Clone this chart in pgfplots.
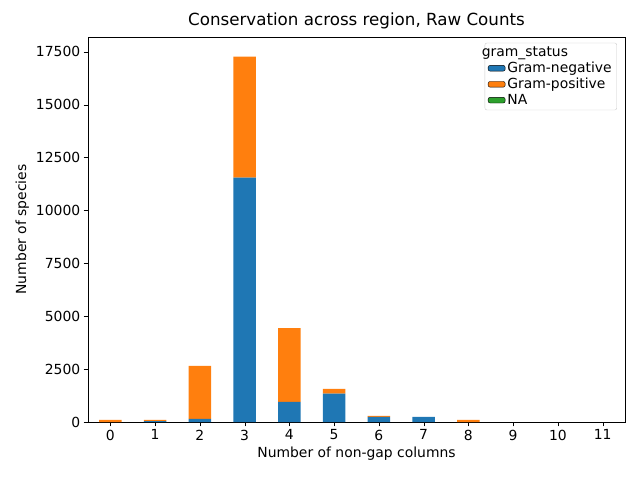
\documentclass[border=0pt]{standalone}
\usepackage{pgfplots}
\pgfplotsset{compat=1.18}
\usepackage{fontspec}
\setmainfont{DejaVu Sans}
\definecolor{c1}{HTML}{1F77B4}
\definecolor{c2}{HTML}{FF7F0E}
\definecolor{c3}{HTML}{2CA02C}
\newcommand{\fs}{\fontsize{13.9}{16}\selectfont}
\newcommand{\ft}{\fontsize{16.7}{19}\selectfont}
\begin{document}
\begin{tikzpicture}
\useasboundingbox (-88pt,-58pt) rectangle (552pt,422pt);
\begin{axis}[at={(0,0)},anchor=south west,
 width=537pt,height=385pt,scale only axis,
 ybar stacked, bar width=0.5,
 xmin=-0.5,xmax=11.5,ymin=0,ymax=18200,
 xtick={0,...,11},
 ytick={0,2500,5000,7500,10000,12500,15000,17500},
 scaled y ticks=false,
 yticklabel style={/pgf/number format/.cd,fixed,1000 sep={}},
 /pgf/number format/assume math mode=true,
 tick align=outside, tick style={black},
 xtick pos=bottom, ytick pos=left,
 ticklabel style={font=\fs},
 title={Conservation across region, Raw Counts},
 title style={font=\ft,yshift=-2pt},
 xlabel={Number of non-gap columns}, ylabel={Number of species},
 label style={font=\fs},
 legend style={at={(0.985,0.985)},anchor=north east,font=\fs,draw=black!20,rounded corners=2pt},
 legend cell align=left,
 legend image code/.code={\fill[#1,draw=none] (0pt,-3pt) rectangle (28pt,5pt);},
 area legend,
]
\addlegendimage{empty legend}\addlegendentry{\hspace{-0.9cm}gram\_status}
\addplot[fill=c1,draw=none] coordinates {(0,0)(1,47)(2,142)(3,11550)(4,950)(5,1343)(6,237)(7,237)(8,0)(9,0)(10,0)(11,0)};
\addlegendentry{Gram-negative}
\addplot[fill=c2,draw=none] coordinates {(0,95)(1,48)(2,2513)(3,5720)(4,3490)(5,221)(6,47)(7,0)(8,95)(9,0)(10,0)(11,0)};
\addlegendentry{Gram-positive}
\addplot[fill=c3,draw=none] coordinates {(0,0)(1,0)(2,0)(3,0)(4,0)(5,0)(6,0)(7,0)(8,0)(9,0)(10,0)(11,0)};
\addlegendentry{NA}
\end{axis}
\end{tikzpicture}
\end{document}
